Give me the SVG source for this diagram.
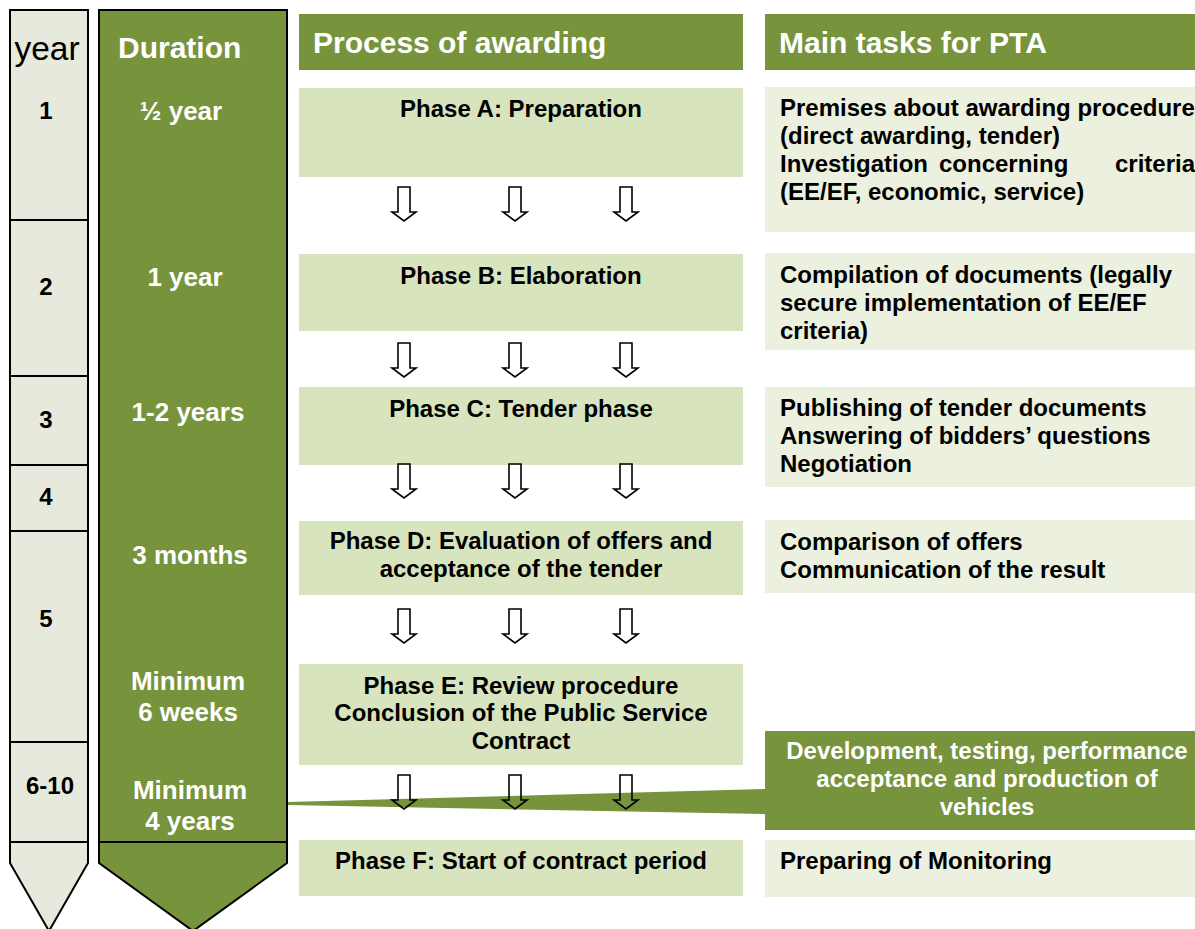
<svg xmlns="http://www.w3.org/2000/svg" width="1195" height="929" viewBox="0 0 1195 929">
  <defs>
    <style>
      text { font-family: "Liberation Sans", Arial, sans-serif; font-weight: bold; }
      .hdr { fill: #77933C; }
      .phase { fill: #D7E4BD; }
      .task { fill: #EBF1DE; }
      .green { fill: #77933C; }
      .col { stroke: #000; stroke-width: 2; }
      .div { stroke: #000; stroke-width: 2; fill: none; }
      .lbl { font-size: 24px; fill: #000; }
      .wlbl { font-size: 26px; fill: #fff; }
      .htxt { font-size: 30px; fill: #fff; }
      .mid { text-anchor: middle; }
      .end { text-anchor: end; }
      .arrow { fill: none; stroke: #000; stroke-width: 1.6; stroke-linejoin: miter; }
    </style>
    <path id="dn" d="M -6 0 H 6 V 25 H 12 L 0 34 L -12 25 H -6 Z"/>
  </defs>
  <rect width="1195" height="929" fill="#fff"/>

  <!-- year column -->
  <g id="year-column">
    <path class="col" fill="#E6E9DC" d="M 10 10 H 88 V 863 L 49 931 L 10 863 Z"/>
    <path class="div" d="M 10 220 H 88 M 10 376 H 88 M 10 465 H 88 M 10 531 H 88 M 10 742 H 88 M 10 842 H 88"/>
    <text x="47" y="60" class="mid" style="font-size:33.5px;font-weight:normal;fill:#000">year</text>
    <text x="46" y="119" class="lbl mid">1</text>
    <text x="46" y="295" class="lbl mid">2</text>
    <text x="46" y="428" class="lbl mid">3</text>
    <text x="46" y="505" class="lbl mid">4</text>
    <text x="46" y="627" class="lbl mid">5</text>
    <text x="50" y="794" class="lbl mid">6-10</text>
  </g>

  <!-- duration column -->
  <g id="duration-column">
    <path class="col" fill="#77933C" d="M 99 10 H 287 V 863 L 193 931 L 99 863 Z"/>
    <path class="div" d="M 99 842 H 287"/>
    <text x="118" y="58" style="font-size:30px;fill:#fff">Duration</text>
    <text x="181" y="120" class="wlbl mid">½ year</text>
    <text x="185" y="286" class="wlbl mid">1 year</text>
    <text x="188" y="421" class="wlbl mid">1-2 years</text>
    <text x="190" y="564" class="wlbl mid">3 months</text>
    <text x="188" y="690" class="wlbl mid">Minimum</text>
    <text x="188" y="721" class="wlbl mid">6 weeks</text>
    <text x="190" y="799" class="wlbl mid">Minimum</text>
    <text x="190" y="830" class="wlbl mid">4 years</text>
  </g>

  <!-- column headers -->
  <g id="header-process">
    <rect class="hdr" x="299" y="14" width="444" height="56"/>
    <text x="313" y="53" class="htxt">Process of awarding</text>
  </g>
  <g id="header-tasks">
    <rect class="hdr" x="765" y="14" width="430" height="56"/>
    <text x="779" y="53" class="htxt">Main tasks for PTA</text>
  </g>

  <!-- phases -->
  <g id="phase-a">
    <rect class="phase" x="299" y="88" width="444" height="89"/>
    <text x="521" y="117" class="lbl mid">Phase A: Preparation</text>
  </g>
  <g id="phase-b">
    <rect class="phase" x="299" y="254" width="444" height="77"/>
    <text x="521" y="284" class="lbl mid">Phase B: Elaboration</text>
  </g>
  <g id="phase-c">
    <rect class="phase" x="299" y="387" width="444" height="78"/>
    <text x="521" y="417" class="lbl mid">Phase C: Tender phase</text>
  </g>
  <g id="phase-d">
    <rect class="phase" x="299" y="521" width="444" height="74"/>
    <text x="521" y="549" class="lbl mid">Phase D: Evaluation of offers and</text>
    <text x="521" y="577" class="lbl mid">acceptance of the tender</text>
  </g>
  <g id="phase-e">
    <rect class="phase" x="299" y="664" width="444" height="101"/>
    <text x="521" y="694" class="lbl mid">Phase E: Review procedure</text>
    <text x="521" y="721" class="lbl mid">Conclusion of the Public Service</text>
    <text x="521" y="749" class="lbl mid">Contract</text>
  </g>
  <g id="phase-f">
    <rect class="phase" x="299" y="840" width="444" height="56"/>
    <text x="521" y="869" class="lbl mid">Phase F: Start of contract period</text>
  </g>

  <!-- tasks -->
  <g id="task-a">
    <rect class="task" x="765" y="87" width="430" height="145"/>
    <text x="780" y="116" class="lbl">Premises about awarding procedure</text>
    <text x="780" y="144" class="lbl">(direct awarding, tender)</text>
    <text x="780" y="172" class="lbl">Investigation</text>
    <text x="939" y="172" class="lbl">concerning</text>
    <text x="1195" y="172" class="lbl end">criteria</text>
    <text x="780" y="200" class="lbl">(EE/EF, economic, service)</text>
  </g>
  <g id="task-b">
    <rect class="task" x="765" y="253" width="430" height="97"/>
    <text x="780" y="283" class="lbl">Compilation of documents (legally</text>
    <text x="780" y="311" class="lbl">secure implementation of EE/EF</text>
    <text x="780" y="339" class="lbl">criteria)</text>
  </g>
  <g id="task-c">
    <rect class="task" x="765" y="387" width="430" height="100"/>
    <text x="780" y="416" class="lbl">Publishing of tender documents</text>
    <text x="780" y="444" class="lbl">Answering of bidders’ questions</text>
    <text x="780" y="472" class="lbl">Negotiation</text>
  </g>
  <g id="task-d">
    <rect class="task" x="765" y="520" width="430" height="73"/>
    <text x="780" y="550" class="lbl">Comparison of offers</text>
    <text x="780" y="578" class="lbl">Communication of the result</text>
  </g>
  <g id="task-f">
    <rect class="task" x="765" y="840" width="430" height="57"/>
    <text x="780" y="869" class="lbl">Preparing of Monitoring</text>
  </g>

  <!-- vehicle callout with pointer towards the duration column -->
  <g id="callout-vehicles">
    <path class="green" d="M 288 802 L 766 789 L 766 814 L 288 805 Z"/>
    <rect class="green" x="765" y="731" width="430" height="99"/>
    <text x="987" y="759" class="mid" style="font-size:24px;fill:#fff">Development, testing, performance</text>
    <text x="987" y="787" class="mid" style="font-size:24px;fill:#fff">acceptance and production of</text>
    <text x="987" y="815" class="mid" style="font-size:24px;fill:#fff">vehicles</text>
  </g>

  <!-- connectors: block arrows between phases -->
  <g id="connectors" class="arrow">
    <use href="#dn" x="404" y="187"/>
    <use href="#dn" x="515" y="187"/>
    <use href="#dn" x="626" y="187"/>
    <use href="#dn" x="404" y="343"/>
    <use href="#dn" x="515" y="343"/>
    <use href="#dn" x="626" y="343"/>
    <use href="#dn" x="404" y="464"/>
    <use href="#dn" x="515" y="464"/>
    <use href="#dn" x="626" y="464"/>
    <use href="#dn" x="404" y="609"/>
    <use href="#dn" x="515" y="609"/>
    <use href="#dn" x="626" y="609"/>
    <use href="#dn" x="404" y="775"/>
    <use href="#dn" x="515" y="775"/>
    <use href="#dn" x="626" y="775"/>
  </g>
</svg>
